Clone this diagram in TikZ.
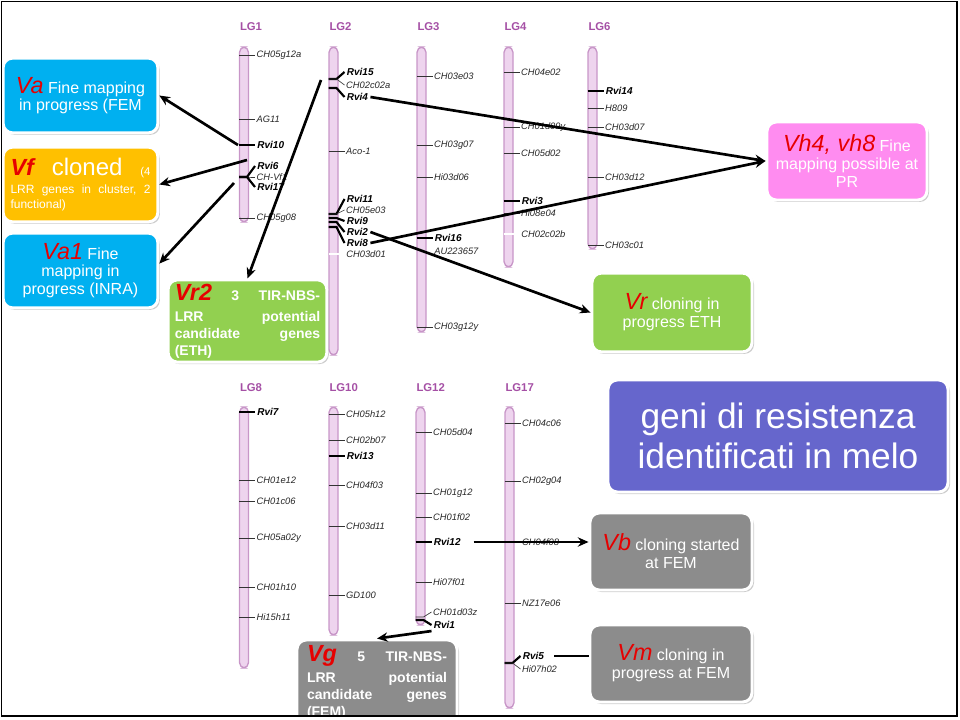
\documentclass[tikz,border=0pt]{standalone}
\usepackage{fontspec}
\setmainfont{Liberation Sans}
\usetikzlibrary{arrows.meta,shadows}

\definecolor{boxblue}{RGB}{0,176,240}
\definecolor{boxorange}{RGB}{255,192,0}
\definecolor{boxgreen}{RGB}{146,208,80}
\definecolor{boxpink}{RGB}{255,140,240}
\definecolor{boxpurple}{RGB}{102,102,204}
\definecolor{boxgray}{RGB}{140,140,140}
\definecolor{genred}{RGB}{230,0,0}
\definecolor{chromfill}{RGB}{238,212,238}
\definecolor{chromedge}{RGB}{200,150,200}
\definecolor{lgpurple}{RGB}{165,80,165}

% gene names in the boxes
\newcommand{\gn}[1]{{\fontsize{17.5}{18}\selectfont\itshape\color{genred}#1}}
\newcommand{\gnb}[1]{{\fontsize{17.5}{18}\selectfont\bfseries\itshape\color{genred}#1}}
% justified line: width, words separated by \hfill
\newcommand{\jline}[2]{\noindent\hbox to #1{#2}}

% markers: id, bar centre, y, text
\newcommand{\mk}[4]{\draw[mktick] (#2-5,#3) -- (#2+11,#3) node[mklab] (#1) {#4};}
\newcommand{\mkr}[4]{\draw[rvitick] (#2-5,#3) -- (#2+11,#3) node[rvilab] (#1) {#4};}
\newcommand{\mkw}[4]{\draw[whitetick] (#2-5,#3) -- (#2+5,#3); \node[mklab] (#1) at (#2+11,#3) {#4};}
% bent marker: tick style, label style, id, bar centre, y on bar, y of label, text
\newcommand{\mkbend}[7]{\draw[#1] (#4-5,#5) -- (#4+3,#5) -- (#4+11,#6) node[#2] (#3) {#7};}
% chromosome: bar centre, top, bottom
\newcommand{\chrom}[3]{\draw[chrombar] (#1-4.5,#2) rectangle (#1+4.5,#3);}

\tikzset{every picture/.style={line width=0.75pt}}
\tikzset{
  chrombar/.style={draw=chromedge, fill=chromfill, line width=1pt, rounded corners=4},
  mktick/.style={draw=black!80, line width=0.5pt},
  rvitick/.style={draw=black, line width=1.6pt},
  whitetick/.style={draw=white, line width=1pt},
  mklab/.style={anchor=west, inner sep=1pt, font=\fontsize{7}{8}\selectfont\itshape, text=black!85},
  rvilab/.style={anchor=west, inner sep=1pt, font=\fontsize{7.5}{8}\selectfont\bfseries\itshape},
  lglab/.style={anchor=west, inner sep=0pt, font=\fontsize{8.5}{9}\selectfont\bfseries, text=lgpurple},
  genebox/.style={draw=white, line width=2.2pt, rounded corners=7, text=white, inner sep=3pt,
    drop shadow={shadow xshift=1.5pt, shadow yshift=-1.5pt, opacity=0.4}},
  link/.style={line width=2pt, -{Stealth[length=8pt,width=7pt]}},
}

\begin{document}
\begin{tikzpicture}[x=0.75pt,y=0.75pt,yscale=-1,xscale=1]
	\useasboundingbox (0,0) rectangle (960,720);

	%Chromosomes, upper row
	\chrom{244}{47}{222}
	\chrom{333.5}{47}{355}
	\chrom{421.5}{47}{332}
	\chrom{508.5}{47}{267}
	\chrom{592.5}{47}{249}
	\node[lglab] (lg1) at (239.5,27) {LG1};
	\node[lglab] (lg2) at (329,27) {LG2};
	\node[lglab] (lg3) at (417,27) {LG3};
	\node[lglab] (lg4) at (504,27) {LG4};
	\node[lglab] (lg6) at (588,27) {LG6};

	%Chromosomes, lower row
	\chrom{244}{407}{668}
	\chrom{333.5}{407}{635}
	\chrom{420.5}{407}{625}
	\chrom{509.5}{407}{708}
	\node[lglab] (lg8) at (239.5,388) {LG8};
	\node[lglab] (lg10) at (329,388) {LG10};
	\node[lglab] (lg12) at (416,388) {LG12};
	\node[lglab] (lg17) at (505,388) {LG17};

	%Markers LG1
	\mk{lg1-ch05g12a}{244}{55}{CH05g12a}
	\mk{lg1-ag11}{244}{119}{AG11}
	\mkr{lg1-rvi10}{244}{145}{Rvi10}
	\mkbend{rvitick}{rvilab}{lg1-rvi6}{244}{177}{166}{Rvi6}
	\mkbend{mktick}{mklab}{lg1-chvf1}{244}{177}{177}{CH-Vf1}
	\mkbend{rvitick}{rvilab}{lg1-rvi17}{244}{177}{187}{Rvi17}
	\mk{lg1-ch05g08}{244}{218}{CH05g08}
	%Markers LG2
	\mkbend{rvitick}{rvilab}{lg2-rvi15}{333.5}{79}{72}{Rvi15}
	\mkbend{mktick}{mklab}{lg2-ch02c02a}{333.5}{79}{85}{CH02c02a}
	\mkbend{rvitick}{rvilab}{lg2-rvi4}{333.5}{88}{97}{Rvi4}
	\mk{lg2-aco1}{333.5}{151}{Aco-1}
	\mkbend{rvitick}{rvilab}{lg2-rvi11}{333.5}{214}{199}{Rvi11}
	\mkbend{mktick}{mklab}{lg2-ch05e03}{333.5}{214}{210}{CH05e03}
	\mkbend{rvitick}{rvilab}{lg2-rvi9}{333.5}{218}{221}{Rvi9}
	\mkbend{rvitick}{rvilab}{lg2-rvi2}{333.5}{222}{232}{Rvi2}
	\mkbend{rvitick}{rvilab}{lg2-rvi8}{333.5}{227}{243}{Rvi8}
	\mkw{lg2-ch03d01}{333.5}{254}{CH03d01}
	%Markers LG3
	\mk{lg3-ch03e03}{421.5}{76}{CH03e03}
	\mk{lg3-ch03g07}{421.5}{145}{CH03g07}
	\mk{lg3-hi03d06}{421.5}{177}{Hi03d06}
	\mkr{lg3-rvi16}{421.5}{238}{Rvi16}
	\node[mklab] (lg3-au223657) at (432.5,251) {AU223657};
	\mk{lg3-ch03g12y}{421.5}{327}{CH03g12y}
	%Markers LG4
	\mk{lg4-ch04e02}{508.5}{72}{CH04e02}
	\mk{lg4-ch01d09y}{508.5}{127}{CH01d09y}
	\mk{lg4-ch05d02}{508.5}{153}{CH05d02}
	\mkr{lg4-rvi3}{508.5}{201}{Rvi3}
	\mk{lg4-hi08e04}{508.5}{213}{Hi08e04}
	\mkw{lg4-ch02c02b}{508.5}{234}{CH02c02b}
	%Markers LG6
	\mkr{lg6-rvi14}{592.5}{91}{Rvi14}
	\mk{lg6-h809}{592.5}{108}{H809}
	\mk{lg6-ch03d07}{592.5}{127}{CH03d07}
	\mk{lg6-ch03d12}{592.5}{177}{CH03d12}
	\mk{lg6-ch03c01}{592.5}{245}{CH03c01}
	%Markers LG8
	\mkr{lg8-rvi7}{244}{412}{Rvi7}
	\mk{lg8-ch01e12}{244}{480}{CH01e12}
	\mk{lg8-ch01c06}{244}{501}{CH01c06}
	\mk{lg8-ch05a02y}{244}{538}{CH05a02y}
	\mk{lg8-ch01h10}{244}{587}{CH01h10}
	\mk{lg8-hi15h11}{244}{617}{Hi15h11}
	%Markers LG10
	\mk{lg10-ch05h12}{333.5}{414}{CH05h12}
	\mk{lg10-ch02b07}{333.5}{440}{CH02b07}
	\mkr{lg10-rvi13}{333.5}{456}{Rvi13}
	\mk{lg10-ch04f03}{333.5}{485}{CH04f03}
	\mk{lg10-ch03d11}{333.5}{526}{CH03d11}
	\mk{lg10-gd100}{333.5}{595}{GD100}
	%Markers LG12
	\mk{lg12-ch05d04}{420.5}{432}{CH05d04}
	\mk{lg12-ch01g12}{420.5}{493}{CH01g12}
	\mk{lg12-ch01f02}{420.5}{517}{CH01f02}
	\mkr{lg12-rvi12}{420.5}{542}{Rvi12}
	\mk{lg12-hi07f01}{420.5}{582}{Hi07f01}
	\mkbend{mktick}{mklab}{lg12-ch01d03z}{420.5}{617}{612}{CH01d03z}
	\mkbend{rvitick}{rvilab}{lg12-rvi1}{420.5}{620}{625}{Rvi1}
	%Markers LG17
	\mk{lg17-ch04c06}{509.5}{423}{CH04c06}
	\mk{lg17-ch02g04}{509.5}{481}{CH02g04}
	\mk{lg17-ch04f08}{509.5}{542}{CH04f08}
	\mk{lg17-nz17e06}{509.5}{603}{NZ17e06}
	\mkbend{rvitick}{rvilab}{lg17-rvi5}{509.5}{663}{656}{Rvi5}
	\mkbend{mktick}{mklab}{lg17-hi07h02}{509.5}{663}{669}{Hi07h02}

	%Boxes
	\node[genebox, fill=boxblue, minimum width=116pt, minimum height=56pt, align=center,
	  font=\fontsize{12}{12.5}\selectfont] (va) at (80.5,95.5)
	  {\gn{Va} Fine mapping\\in progress (FEM};
	\node[genebox, fill=boxorange, minimum width=116pt, minimum height=56pt, text width=105pt, align=left,
	  font=\fontsize{9}{11}\selectfont] (vf) at (80.5,184.5)
	  {\jline{105pt}{\gnb{Vf}\hfill{\fontsize{18}{18}\selectfont cloned}\hfill{\fontsize{8.5}{9}\selectfont(4}}\\[3pt]
	   \jline{105pt}{LRR\hfill genes\hfill in\hfill cluster,\hfill 2}\\functional)};
	\node[genebox, fill=boxblue, minimum width=116pt, minimum height=56pt, align=center,
	  font=\fontsize{12}{13}\selectfont] (vaone) at (80.5,270.5)
	  {\gn{Va1} Fine\\mapping in\\progress (INRA)};
	\node[genebox, fill=boxgreen, minimum width=119pt, minimum height=58.5pt, text width=109pt, align=left,
	  font=\fontsize{10.5}{12.75}\selectfont\bfseries] (vrtwo) at (247.5,321)
	  {\jline{109pt}{\gnb{Vr2}\hfill 3\hfill TIR-NBS-}\\[3pt]\jline{109pt}{LRR\hfill potential}\\
	   \jline{109pt}{candidate\hfill genes}\\(ETH)};
	\node[genebox, fill=boxpink, minimum width=120pt, minimum height=58.5pt, align=center,
	  font=\fontsize{12}{13.5}\selectfont] (vh) at (847,161)
	  {\gn{Vh4, vh8} Fine\\mapping possible at\\PR};
	\node[genebox, fill=boxgreen, minimum width=120pt, minimum height=59pt, align=center,
	  font=\fontsize{12}{13.5}\selectfont] (vr) at (672,312.5)
	  {\gn{Vr} cloning in\\progress ETH};
	\node[genebox, fill=boxpurple, minimum width=255pt, minimum height=84pt, align=center,
	  font=\fontsize{26.5}{30}\selectfont] (geni) at (778,436)
	  {geni di resistenza\\identificati in melo};
	\node[genebox, fill=boxgray, minimum width=121.5pt, minimum height=57.75pt, align=center,
	  font=\fontsize{12}{13.5}\selectfont] (vb) at (671,551.5)
	  {\gn{Vb} cloning started\\at FEM};
	\node[genebox, fill=boxgray, minimum width=121.5pt, minimum height=57.75pt, align=center,
	  font=\fontsize{12}{13.5}\selectfont] (vm) at (671,663.5)
	  {\gn{Vm} cloning in\\progress at FEM};
	\begin{scope}
	\clip (0,0) rectangle (960,716);
	\node[genebox, fill=boxgray, minimum width=120pt, minimum height=63.75pt, text width=105pt, align=left,
	  font=\fontsize{10.5}{12.75}\selectfont\bfseries] (vg) at (377,682.5)
	  {\jline{105pt}{\gnb{Vg}\hfill 5\hfill TIR-NBS-}\\[3pt]\jline{105pt}{LRR\hfill potential}\\
	   \jline{105pt}{candidate\hfill genes}\\(FEM)};
	\end{scope}

	%Arrows
	\coordinate (s1) at (238,145);
	\coordinate (s2) at (247,160);
	\coordinate (s3) at (234,183);
	\coordinate (s4) at (321,80);
	\draw[link] (s1) -- (va.east);
	\draw[link] (s2) -- (vf.east);
	\draw[link] (s3) -- (vaone.5);
	\draw[link] (s4) -- (vrtwo.north);
	\draw[link] (lg2-rvi4.east) -- (vh.west);
	\draw[link] (lg2-rvi8.east) -- (vh.west);
	\draw[link] (lg2-rvi2.east) -- (vr.west);
	\draw[link, shorten <=8pt] (lg12-rvi12.east) -- (lg12-rvi12.east -| vb.west);
	\draw[line width=2pt, shorten <=6pt] (lg17-rvi5.east) -- (lg17-rvi5.east -| vm.west);
	\draw[link] (lg12-rvi1.south west) -- (vg.north);

	%Frame
	\draw[line width=1.2pt] (1.5,1.5) rectangle (957,716);
\end{tikzpicture}
\end{document}
